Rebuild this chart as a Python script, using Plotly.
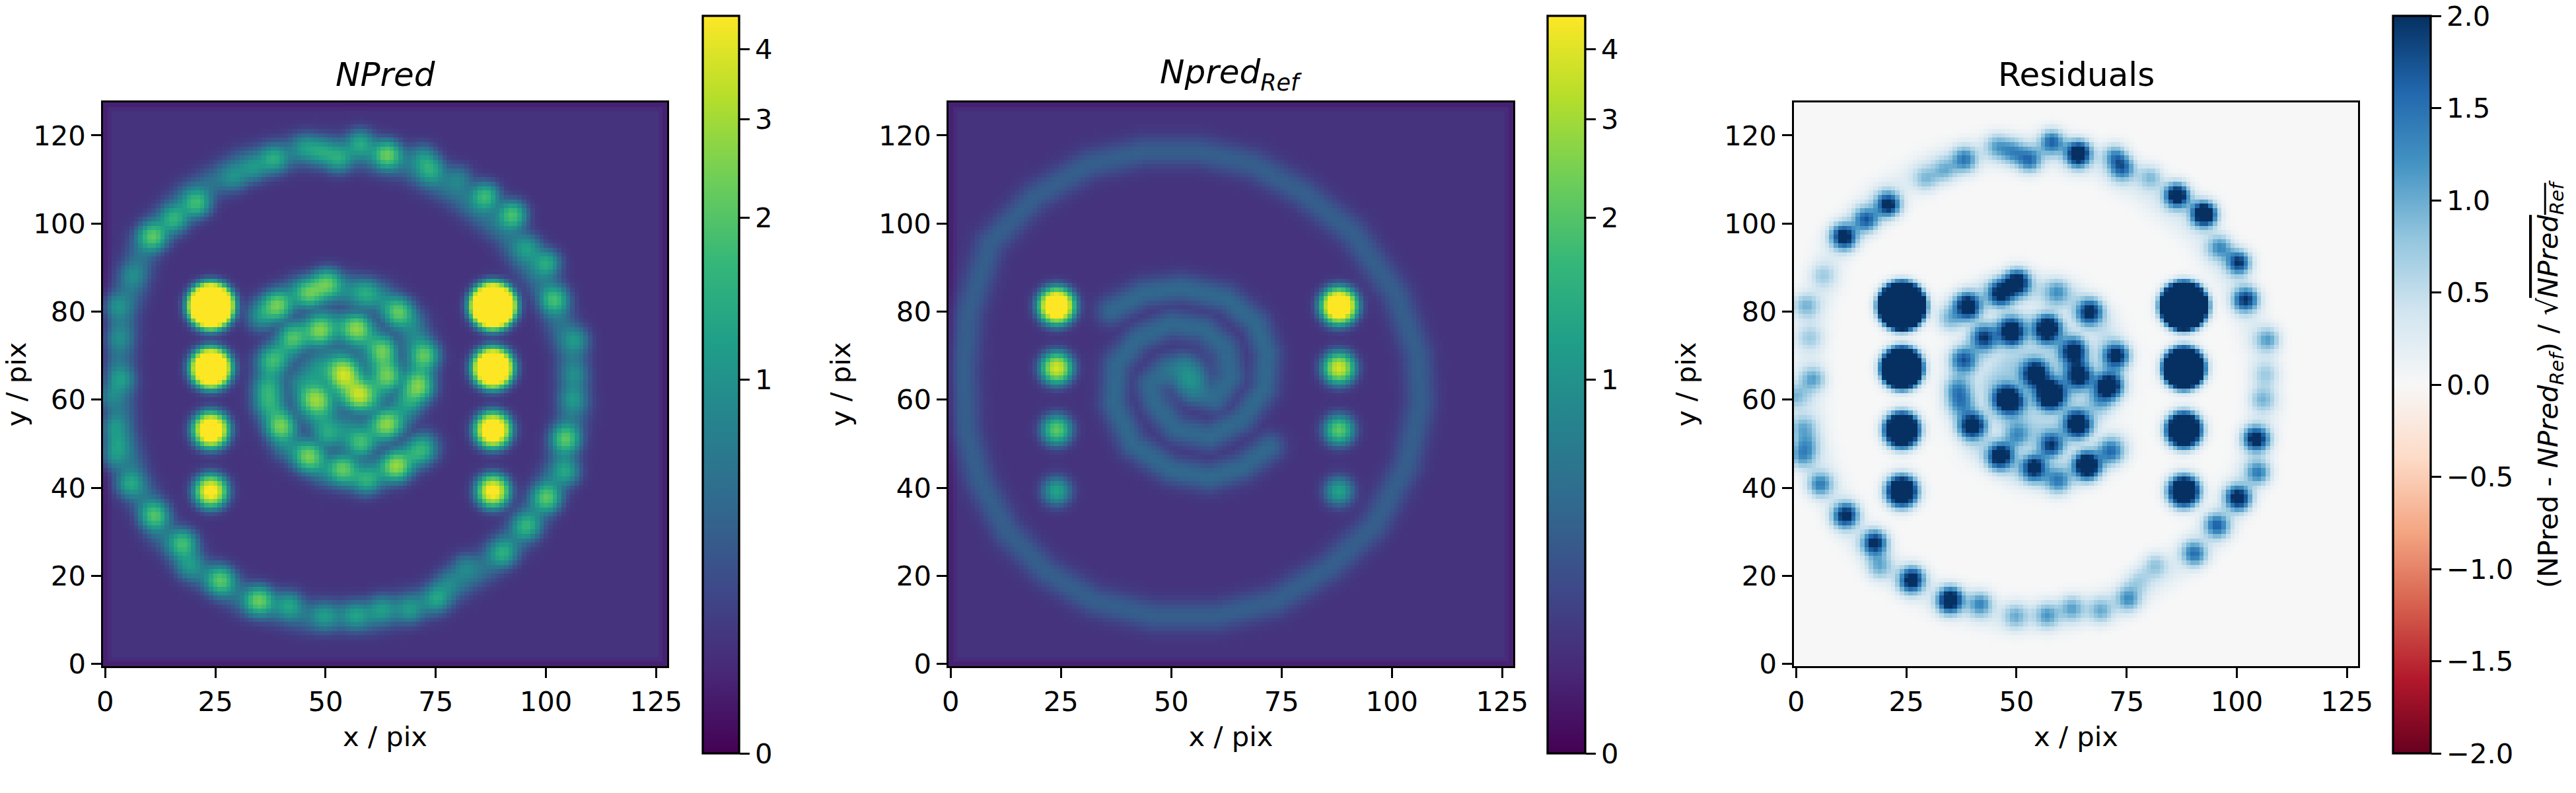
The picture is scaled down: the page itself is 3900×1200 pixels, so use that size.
import numpy as np
import plotly.graph_objects as go

# ---- values ----
x_ticks = [0, 25, 50, 75, 100, 125]
y_ticks = [0, 20, 40, 60, 80, 100, 120]
npred_ticks = [0, 1, 2, 3, 4]
resid_ticks = [-2.0, -1.5, -1.0, -0.5, 0.0, 0.5, 1.0, 1.5, 2.0]
resid_labels = ["−2.0", "−1.5", "−1.0", "−0.5", "0.0", "0.5", "1.0", "1.5", "2.0"]
STRETCH_A = 0.46
NPRED_MAX = 4.58
background = 0.21
ring_level = 0.26
arm_level = 0.33
ring_excess = 0.15
arm_excess = 0.3
core_level = 0.5
inner_excess = 0.3

source_x = [24, 88]
source_y = [39.2, 53.1, 67.2, 81.3]
source_ref = [1.05, 1.9, 3.6, 9.8]
source_npred = [5.0, 9.0, 22.0, 60.0]

ring_x = [2.9, 4, 9, 19, 31.4, 43.8, 56.2, 68.6, 79.8, 91, 100.9, 105.8, 106.5, 103.3, 96, 86, 73.6, 60, 46.3, 32.6, 21.5, 12.8, 6.6, 3.5, 2.9]
ring_y = [67, 79.6, 95.6, 106, 113.4, 116.3, 116.3, 113.4, 107, 98, 84, 70.4, 59, 45, 31.4, 22, 14.2, 10.8, 10.8, 14.2, 21, 30, 41.7, 53, 67]
arm1_x = [36.4, 43.8, 52.5, 62.4, 69.2, 71.7, 71, 66, 58.7, 51.2, 46.3, 45, 48.8, 52.5, 55.6]
arm1_y = [80.2, 84.2, 85.3, 83, 77.3, 70.4, 62.4, 55.5, 51.5, 53.2, 59, 63.5, 67, 67.5, 62.4]
arm2_x = [72.3, 66, 58.7, 50, 41.3, 37, 37.6, 42.6, 50, 57.4, 62.4, 63.6, 60, 55.6]
arm2_y = [49.2, 44.6, 42.3, 44, 49.8, 59, 68, 73.9, 77.3, 76, 71.6, 65.2, 60, 61.8]

clump_x = [10.8, 15.8, 20.8, 29.3, 33.6, 38.2, 45.5, 49.2, 53, 58, 64, 72.2, 74, 80.3, 86.3, 92.4, 95.9, 100.2, 101.9, 106.8, 106.5, 105.9, 104.4, 104.6, 100.2, 95.5, 90.3, 81.6, 77.8, 75.3, 69.1, 62.6, 56.9, 49.8, 41.7, 34.9, 26.2, 19, 17.7, 11.2, 5.6, 1.9, 2.5, 1.9, 3.7, 0.6, 3.1, 2.5, 6.2,
           38.9, 34.9, 46.3, 50.2, 59.2, 66.6, 48.8, 57, 42.6, 38, 62.9, 72.5, 64.1, 71, 54.2, 57.7, 47.7, 36.7, 37.4, 39.9, 50.2, 49.2, 63.9, 57.9, 46.3, 53.9, 59.4, 66, 71.4, 69]
clump_y = [97, 101, 104.5, 110.3, 112.3, 114.6, 117.4, 116.3, 114.6, 118.3, 115.7, 115.1, 112.3, 110.3, 106.2, 102, 94.5, 91, 82.7, 73.6, 65.8, 60, 51.1, 43.5, 37.7, 31.4, 25.1, 22.2, 18.8, 14.8, 12.2, 12.5, 11, 10.8, 13.4, 14.4, 19, 22.2, 27.4, 33.7, 40.8, 46.9, 49.8, 53.8, 64.7, 60.7, 74.1, 81.3, 88.2,
           81.3, 78.4, 84.2, 86.5, 84.4, 79.9, 75.6, 76.1, 74.1, 69, 71, 70, 65.5, 63.2, 65.8, 61.2, 60.3, 62.4, 59, 54, 52, 59, 54.4, 49.8, 47.1, 44.4, 41.7, 45, 48.3, 60]
clump_amp = [1.5, 1.0, 1.3, 0.45, 0.5, 0.85, 0.55, 0.65, 0.85, 0.9, 1.7, 0.6, 0.85, 0.45, 1.4, 1.6, 0.7, 1.05, 1.25, 0.6, 0.35, 0.5, 1.5, 0.8, 1.5, 1.0, 0.9, 0.4, 0.3, 0.7, 0.55, 0.6, 0.65, 0.55, 0.75, 1.7, 1.5, 0.55, 1.3, 1.4, 0.8, 0.5, 0.5, 0.5, 0.6, 0.4, 0.35, 0.5, 0.35,
             1.6, 0.4, 1.4, 1.5, 0.6, 1.35, 1.7, 1.8, 1.1, 0.95, 1.4, 1.35, 1.4, 1.7, 2.2, 2.5, 1.7, 0.6, 0.6, 1.6, 0.55, 0.55, 1.8, 1.05, 1.6, 1.4, 0.75, 2.0, 0.85, 0.45]

viridis_scale = "Viridis"
rdbu_scale = ["#67001f", "#b2182b", "#d6604d", "#f4a582", "#fddbc7", "#f7f7f7",
              "#d1e5f0", "#92c5de", "#4393c3", "#2166ac", "#053061"]

# ---- build images from the read features ----
N = 128
gx, gy = np.meshgrid(np.arange(N), np.arange(N))


def path_glow(px, py, sigma):
    px, py = np.array(px, float), np.array(py, float)
    best = np.full(gx.shape, np.inf)
    for i in range(len(px) - 1):
        dx, dy = px[i + 1] - px[i], py[i + 1] - py[i]
        t = np.clip(((gx - px[i]) * dx + (gy - py[i]) * dy) / (dx * dx + dy * dy), 0, 1)
        best = np.minimum(best, (gx - px[i] - t * dx) ** 2 + (gy - py[i] - t * dy) ** 2)
    return np.exp(-best / (2 * sigma ** 2))


def spot(cx, cy, amp, sigma):
    return amp * np.exp(-((gx - cx) ** 2 + (gy - cy) ** 2) / (2 * sigma ** 2))


edge = np.minimum.reduce([gx, gy, N - 1 - gx, N - 1 - gy])
base = np.where(edge == 0, background * 0.6, np.where(edge == 1, background * 0.8, background))
ring_g = path_glow(ring_x, ring_y, 2.4)
arm_g = np.maximum(path_glow(arm1_x, arm1_y, 2.3), path_glow(arm2_x, arm2_y, 2.3))
npred_ref = base + np.maximum(ring_level * ring_g, arm_level * arm_g) + spot(54, 65, core_level, 3.0)
npred = npred_ref + ring_excess * ring_g + arm_excess * arm_g + spot(54, 64, inner_excess, 9.0)
for sx in source_x:
    for sy, a_ref, a_np in zip(source_y, source_ref, source_npred):
        npred_ref += spot(sx, sy, a_ref, 2.0)
        npred += spot(sx, sy, a_np, 2.0)
for cx, cy, amp in zip(clump_x, clump_y, clump_amp):
    npred += spot(cx, cy, amp, 1.95)

residual = (npred - npred_ref) / np.sqrt(npred_ref)


def stretch(v):
    return np.arcsinh(np.asarray(v, float) / STRETCH_A) / np.arcsinh(NPRED_MAX / STRETCH_A)


# ---- layout, in window pixels ----
W, H = 3900, 1200
panels = [(156, 1010), (1436, 2291), (2716, 3570)]
bars = [(1064, 1119), (2343, 2400), (3623, 3680)]
P_TOP, P_BOT = 155, 1008
BAR_TOP, BAR_BOT = 24.5, 1140
TICK_FONT = dict(family="DejaVu Sans", size=41.7, color="black")
AX_W = 3.3
TICK_L = 14.6

fig = go.Figure()
images = [stretch(npred), stretch(npred_ref), residual]
for i in range(3):
    suffix = "" if i == 0 else str(i + 1)
    if i < 2:
        cbar_ticks = dict(tickvals=stretch(npred_ticks).tolist(), ticktext=[str(t) for t in npred_ticks])
        cs, zmin, zmax = viridis_scale, 0, 1
    else:
        cbar_ticks = dict(tickvals=resid_ticks, ticktext=resid_labels)
        cs = [[k / 10, c] for k, c in enumerate(rdbu_scale)]
        zmin, zmax = -2, 2
    fig.add_trace(go.Heatmap(
        z=images[i], x0=0, dx=1, y0=0, dy=1, zmin=zmin, zmax=zmax, colorscale=cs,
        xaxis="x" + suffix, yaxis="y" + suffix,
        colorbar=dict(
            x=bars[i][0] / W, xanchor="left",
            y=1 - (BAR_TOP + BAR_BOT) / 2 / H, yanchor="middle",
            len=(BAR_BOT - BAR_TOP) / H, lenmode="fraction",
            thickness=bars[i][1] - bars[i][0], thicknessmode="pixels",
            xpad=0, ypad=0, outlinewidth=AX_W, outlinecolor="black",
            ticks="outside", ticklen=TICK_L, tickwidth=AX_W, tickcolor="black",
            ticklabeloverflow="allow", tickfont=TICK_FONT, **cbar_ticks),
    ))
    common = dict(range=[-0.5, 127.5], showgrid=False, zeroline=False, showline=True, mirror=True,
                  linecolor="black", linewidth=AX_W, ticks="outside", ticklen=TICK_L, tickwidth=AX_W,
                  tickcolor="black", tickfont=TICK_FONT, tickangle=0)
    title_font = dict(family="DejaVu Sans", size=41.7, color="black")
    fig.update_layout({
        "xaxis" + suffix: dict(common, domain=[panels[i][0] / W, panels[i][1] / W], anchor="y" + suffix,
                               tickvals=x_ticks, title=dict(text="x / pix", font=title_font, standoff=16)),
        "yaxis" + suffix: dict(common, domain=[1 - P_BOT / H, 1 - P_TOP / H], anchor="x" + suffix,
                               tickvals=y_ticks, title=dict(text="y / pix", font=title_font, standoff=30)),
    })

titles = ["<i>NPred</i>", "<i>Npred<sub>Ref</sub></i>", "Residuals"]
annotations = []
for (a, b), t in zip(panels, titles):
    annotations.append(dict(text=t, x=(a + b) / 2 / W, y=1 - 113 / H, xref="paper", yref="paper",
                            xanchor="center", yanchor="middle", showarrow=False,
                            font=dict(family="DejaVu Sans", size=50, color="black")))
annotations.append(dict(
    text="(NPred - <i>NPred<sub>Ref</sub></i>) / √<span style='text-decoration:overline'><i>NPred<sub>Ref</sub></i></span>",
    x=3860 / W, y=1 - 582 / H, xref="paper", yref="paper", xanchor="center", yanchor="middle",
    textangle=-90, showarrow=False, font=dict(family="DejaVu Sans", size=41.7, color="black")))

fig.update_layout(width=W, height=H, margin=dict(l=0, r=0, t=0, b=0, autoexpand=False), paper_bgcolor="white",
                  plot_bgcolor="white", annotations=annotations, showlegend=False)
fig.write_html("out.html", post_script="document.body.style.margin='0';",
               config={"displayModeBar": False})
